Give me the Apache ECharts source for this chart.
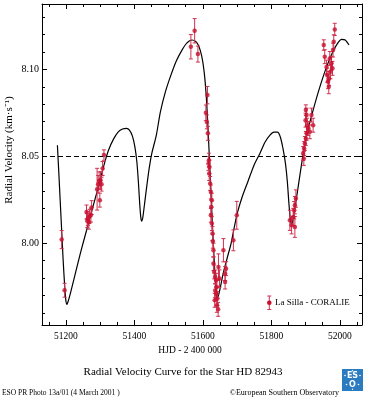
<!DOCTYPE html>
<html><head><meta charset="utf-8">
<script src="https://cdn.jsdelivr.net/npm/echarts@6/dist/echarts.min.js"></script>
<style>html,body{margin:0;padding:0;background:#fff}#c{width:367px;height:400px}</style>
</head><body><div id="c"></div>
<script>
const xMin = 51130, xMax = 52065;
const yMin = 7.953, yMax = 8.1376;
const xTickLabels = [51200, 51400, 51600, 51800, 52000];
const xMinorTicks = [51150,51200,51250,51300,51350,51400,51450,51500,51550,51600,51650,51700,51750,51800,51850,51900,51950,52000,52050];
const yTickLabels = [8.00, 8.05, 8.10];
const yMinorTicks = [7.96,7.97,7.98,7.99,8.00,8.01,8.02,8.03,8.04,8.05,8.06,8.07,8.08,8.09,8.10,8.11,8.12,8.13];
const meanVelocity = 8.0516;

const curveX = [51175,51180.2,51186,51191.8,51197.1,51199.7,51202.9,51207.3,51213.7,51228.2,51242.8,51260.3,51277.8,51295.2,51312.7,51324.3,51338.9,51353.5,51365.1,51376.8,51385.5,51394.2,51401.5,51407.3,51411.7,51415.2,51418.4,51421,51424.2,51429.2,51436.5,51443.7,51451,51464.1,51475.8,51490.3,51504.9,51522.4,51539,51553,51568.1,51579.2,51587.9,51596.6,51603.9,51609.7,51614.7,51618.5,51623.4,51628.7,51633.9,51638,51640.9,51644.7,51650.5,51660.1,51670.9,51682.5,51699.1,51714.6,51732,51749.5,51767,51781.5,51796.1,51807.7,51817.9,51826.6,51833.9,51841.2,51847,51851.4,51855.2,51858.7,51863.1,51868.9,51876.2,51884.9,51893.6,51906.8,51922.2,51941.7,51961.2,51979.5,51994.1,52005.7,52015.9,52027];
const curveY = [8.0564,8.0363,8.0132,7.9902,7.9729,7.9672,7.9649,7.9672,7.9718,7.9833,7.9948,8.0075,8.0202,8.0328,8.0461,8.0535,8.0599,8.0642,8.0657,8.0661,8.0651,8.0616,8.0553,8.0466,8.0351,8.0236,8.0155,8.0127,8.0144,8.0219,8.0334,8.0438,8.0518,8.0622,8.0754,8.0869,8.0957,8.1048,8.1111,8.1151,8.1169,8.1160,8.1134,8.1077,8.0984,8.0852,8.0679,8.0518,8.0305,8.0075,7.9873,7.9741,7.9689,7.9695,7.9741,7.9833,7.9914,8.0000,8.0161,8.0265,8.0357,8.0449,8.0518,8.0581,8.0622,8.0639,8.0639,8.0610,8.0547,8.0461,8.0351,8.0230,8.0144,8.0109,8.0132,8.0202,8.0294,8.0409,8.0518,8.0651,8.0766,8.0898,8.1013,8.1100,8.1151,8.1172,8.1169,8.1140];

const obsX = [
 51187.5,51196,
 51260,51262,51264,51267,51269,51273,51275,51291,51294,51297,51299,51301,51304,51307,51311,
 51565,51576,51585.5,
 51613.5,51608.8,51611.8,51614.7,51617.6,51619.3,51616.4,51618.5,51621.4,51623.4,51626.3,51624.3,51623.4,51626.3,51628.1,51629.2,51631,51631,51633,51635.9,51638.8,51640.9,51638.8,51642.6,51640.9,51644.7,51635.9,51634.6,51645.6,51648.5,51660.1,51665,51667.9,51665,51689.2,51699.1,
 51854.3,51859.3,51864,51866.9,51868.9,51871.8,51868.9,
 51900.9,51903,51900,51904.7,51907.6,51903,51900.9,51898,51896,51893,51895,51917.5,51922.2,51912.6,
 51953.3,51956.2,51961.2,51963,51965.9,51967.9,51970.9,51975.8,51978.7,51980.4,51982.5,51985.4,51972.8,51968.7
];
const obsY = [
 8.0021,7.9730,
 8.0180,8.0130,8.0142,8.0121,8.0155,8.0162,8.0205,8.0311,8.0340,8.0360,8.0248,8.0362,8.0340,8.0430,8.0507,
 8.1130,8.1222,8.1088,
 8.0852,8.0750,8.0698,8.0632,8.0478,8.0439,8.0459,8.0401,8.0344,8.0295,8.0248,8.0209,8.0161,8.0113,8.0056,8.0012,7.9960,7.9883,7.9835,7.9806,7.9787,7.9748,7.9710,7.9682,7.9643,7.9620,7.9729,7.9672,7.9864,7.9797,7.9960,7.9826,7.9854,7.9777,8.0017,8.0161,
 8.0132,8.0104,8.0151,8.0190,8.0219,8.0257,8.0094,
 8.0766,8.0737,8.0708,8.0679,8.0660,8.0632,8.0603,8.0574,8.0545,8.0516,8.0488,8.0737,8.0679,8.0641,
 8.1140,8.1073,8.1013,8.0967,8.0929,8.0900,8.1063,8.1035,8.1006,8.1111,8.1159,8.1230,8.0986,8.0948
];
const obsErr = [
 0.0052,0.004,
 0.004,0.004,0.004,0.004,0.004,0.004,0.004,0.012,0.005,0.005,0.004,0.005,0.004,0.004,0.003,
 0.007,0.007,0.0046,
 0.005,0.0045,0.004,0.004,0.004,0.004,0.004,0.004,0.004,0.004,0.004,0.004,0.004,0.004,0.004,0.004,0.004,0.004,0.004,0.004,0.004,0.004,0.004,0.004,0.004,0.004,0.004,0.004,0.0075,0.005,0.0067,0.004,0.004,0.004,0.006,0.008,
 0.0058,0.005,0.005,0.005,0.005,0.005,0.006,
 0.003,0.004,0.004,0.004,0.004,0.004,0.004,0.004,0.004,0.004,0.004,0.004,0.004,0.004,
 0.003,0.004,0.004,0.004,0.004,0.004,0.004,0.004,0.004,0.004,0.004,0.0035,0.004,0.004
];

const RED = '#c8102e';
const FONT = '"Liberation Serif", "Times New Roman", serif';

const curveData = curveX.map((x, i) => [x, curveY[i]]);
const obsData = obsX.map((x, i) => [x, obsY[i], obsErr[i]]);

function xAxisDef(pos, major, labels) {
  return {
    type: 'value', position: pos, min: xMin, max: xMax,
    axisLine: { show: major, lineStyle: { color: '#000', width: 1 } },
    axisTick: { show: true, inside: true, length: major ? 5 : 3, customValues: major ? xTickLabels : xMinorTicks, lineStyle: { color: '#000', width: 1 } },
    axisLabel: labels ? { show: true, customValues: xTickLabels, margin: 6, fontFamily: FONT, fontSize: 9.5, color: '#000', formatter: v => String(Math.round(v)) } : { show: false },
    splitLine: { show: false }
  };
}
function yAxisDef(pos, major, labels) {
  return {
    type: 'value', position: pos, min: yMin, max: yMax,
    axisLine: { show: major, lineStyle: { color: '#000', width: 1 } },
    axisTick: { show: true, inside: true, length: major ? 5 : 3, customValues: major ? yTickLabels : yMinorTicks, lineStyle: { color: '#000', width: 1 } },
    axisLabel: labels ? { show: true, customValues: yTickLabels, margin: 3, fontFamily: FONT, fontSize: 10, color: '#000', formatter: v => v.toFixed(2) } : { show: false },
    splitLine: { show: false }
  };
}

const chart = echarts.init(document.getElementById('c'), null, { renderer: 'canvas' });
chart.setOption({
  animation: false,
  backgroundColor: '#fff',
  grid: { left: 42, right: 5, top: 4, bottom: 75, containLabel: false },
  xAxis: [xAxisDef('bottom', true, true), xAxisDef('bottom', false, false), xAxisDef('top', true, false), xAxisDef('top', false, false)],
  yAxis: [yAxisDef('left', true, true), yAxisDef('left', false, false), yAxisDef('right', true, false), yAxisDef('right', false, false)],
  series: [
    {
      type: 'line', data: curveData, xAxisIndex: 0, yAxisIndex: 0,
      showSymbol: false, smooth: 0.25, clip: true, z: 2,
      lineStyle: { color: '#000', width: 1.2 },
      markLine: {
        silent: true, symbol: ['none', 'none'], label: { show: false },
        lineStyle: { color: '#000', width: 1, type: [5, 3] },
        data: [{ yAxis: meanVelocity }]
      }
    },
    {
      type: 'custom', xAxisIndex: 0, yAxisIndex: 0, z: 3,
      data: obsData,
      encode: { x: 0, y: 1 },
      renderItem: function (params, api) {
        const x = api.value(0), y = api.value(1), e = api.value(2);
        const t = api.coord([x, y + e]), b = api.coord([x, y - e]);
        const cw = 2;
        const st = { stroke: '#cf3150', lineWidth: 1 };
        return { type: 'group', children: [
          { type: 'line', shape: { x1: t[0], y1: t[1], x2: b[0], y2: b[1] }, style: st },
          { type: 'line', shape: { x1: t[0] - cw, y1: t[1], x2: t[0] + cw, y2: t[1] }, style: st },
          { type: 'line', shape: { x1: b[0] - cw, y1: b[1], x2: b[0] + cw, y2: b[1] }, style: st }
        ]};
      }
    },
    {
      type: 'scatter', xAxisIndex: 0, yAxisIndex: 0, z: 4,
      data: obsData.map(d => [d[0], d[1]]),
      symbol: 'circle', symbolSize: 4.5,
      itemStyle: { color: RED }
    }
  ],
  graphic: [
    // legend
    { type: 'line', shape: { x1: 269.3, y1: 296, x2: 269.3, y2: 309.5 }, style: { stroke: '#cf3150', lineWidth: 1 } },
    { type: 'line', shape: { x1: 267.3, y1: 296, x2: 271.3, y2: 296 }, style: { stroke: '#cf3150', lineWidth: 1 } },
    { type: 'line', shape: { x1: 267.3, y1: 309.5, x2: 271.3, y2: 309.5 }, style: { stroke: '#cf3150', lineWidth: 1 } },
    { type: 'circle', shape: { cx: 269.3, cy: 302.7, r: 2.3 }, style: { fill: RED } },
    { type: 'text', x: 275, y: 302.7, style: { text: 'La Silla - CORALIE', font: '9px ' + FONT, fill: '#000', verticalAlign: 'middle', align: 'left' } },
    // axis names
    { type: 'text', x: 190, y: 350.7, style: { text: 'HJD - 2 400 000', font: '9.5px ' + FONT, fill: '#000', align: 'center', verticalAlign: 'middle' } },
    { type: 'text', x: 9.3, y: 150, rotation: Math.PI / 2, style: { text: 'Radial Velocity (km·s⁻¹)', font: '11px ' + FONT, fill: '#000', align: 'center', verticalAlign: 'middle' } },
    // title and credits
    { type: 'text', x: 183, y: 372, style: { text: 'Radial Velocity Curve for the Star HD 82943', font: '11px ' + FONT, fill: '#000', align: 'center', verticalAlign: 'middle' } },
    { type: 'text', x: 2, y: 393, style: { text: 'ESO PR Photo 13a/01 (4 March 2001 )', font: '7.5px ' + FONT, fill: '#000', align: 'left', verticalAlign: 'middle' } },
    { type: 'text', x: 339, y: 393, style: { text: '©European Southern Observatory', font: '8px ' + FONT, fill: '#000', align: 'right', verticalAlign: 'middle' } },
    // ESO logo
    { type: 'rect', shape: { x: 342, y: 369, width: 21, height: 22 }, style: { fill: '#2b7bc0' } },
    { type: 'text', x: 352.5, y: 375.5, style: { text: 'ES', font: 'bold 8px "DejaVu Sans", sans-serif', fill: '#fff', align: 'center', verticalAlign: 'middle' } },
    { type: 'text', x: 352.5, y: 384.5, style: { text: 'O', font: 'bold 8px "DejaVu Sans", sans-serif', fill: '#fff', align: 'center', verticalAlign: 'middle' } },
    { type: 'circle', shape: { cx: 345, cy: 375.5, r: 0.8 }, style: { fill: '#fff' } },
    { type: 'circle', shape: { cx: 360, cy: 375.5, r: 0.8 }, style: { fill: '#fff' } },
    { type: 'circle', shape: { cx: 346.5, cy: 384.5, r: 0.8 }, style: { fill: '#fff' } },
    { type: 'circle', shape: { cx: 358.5, cy: 384.5, r: 0.8 }, style: { fill: '#fff' } },
    { type: 'circle', shape: { cx: 352.5, cy: 370.8, r: 0.7 }, style: { fill: '#fff' } },
    { type: 'circle', shape: { cx: 352.5, cy: 389.3, r: 0.7 }, style: { fill: '#fff' } }
  ]
});
</script>
</body></html>
